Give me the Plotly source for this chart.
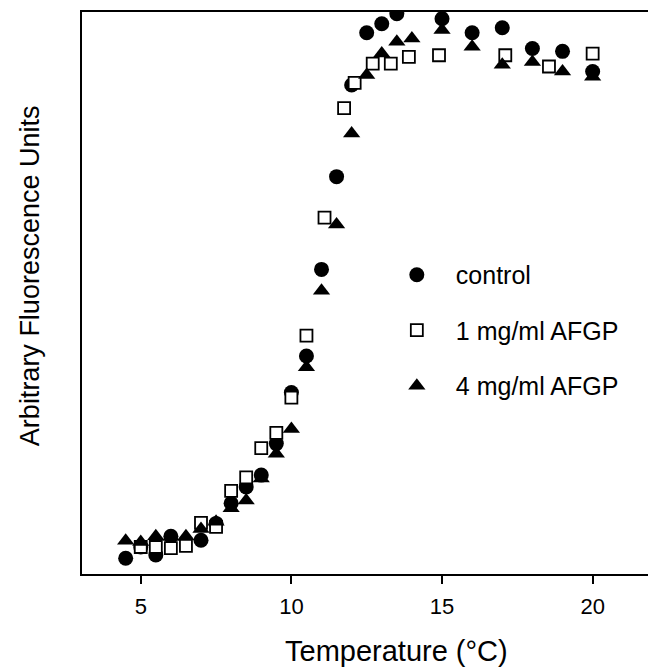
import plotly.graph_objects as go

# Temperature (°C) and fluorescence (arbitrary units, 0-100 of the plot height)
control_temp = [4.5, 5.0, 5.5, 6.0, 7.0, 7.5, 8.0, 8.5, 9.0, 9.5, 10.0, 10.5, 11.0, 11.5,
                12.0, 12.5, 13.0, 13.5, 15.0, 16.0, 17.0, 18.0, 19.0, 20.0]
control_fluo = [2.8, 4.8, 3.4, 6.7, 6.0, 9.0, 12.6, 15.5, 17.6, 23.2, 32.3, 38.8, 54.2, 70.7,
                87.0, 96.3, 97.9, 99.7, 98.8, 96.3, 97.2, 93.5, 93.0, 89.4]

afgp1_temp = [5.0, 5.5, 6.0, 6.5, 7.0, 7.5, 8.0, 8.5, 9.0, 9.5, 10.0, 10.5, 11.1, 11.75,
              12.1, 12.7, 13.3, 13.9, 14.9, 17.1, 18.55, 20.0]
afgp1_fluo = [4.8, 4.8, 4.6, 5.0, 9.1, 8.4, 14.8, 17.2, 22.4, 25.1, 31.4, 42.4, 63.4, 82.9,
              87.4, 90.8, 90.8, 92.0, 92.3, 92.3, 90.3, 92.6]

afgp4_temp = [4.5, 5.0, 5.5, 6.0, 6.5, 7.0, 7.5, 8.0, 8.5, 9.0, 9.5, 10.0, 10.5, 11.0, 11.5,
              12.0, 12.5, 13.0, 13.5, 14.0, 15.0, 16.0, 17.0, 18.0, 19.0, 20.0]
afgp4_fluo = [5.9, 5.7, 6.7, 6.6, 6.7, 8.0, 9.3, 11.7, 13.1, 17.0, 21.4, 25.8, 36.8, 50.4, 62.2,
              78.4, 88.8, 92.6, 94.7, 95.3, 96.8, 93.8, 90.6, 91.1, 89.4, 88.5]

x_ticks = [5, 10, 15, 20]

FONT = "Arial, Liberation Sans, sans-serif"

fig = go.Figure()
fig.add_trace(go.Scatter(x=control_temp, y=control_fluo, mode='markers', name='control',
                         legendgroup='a',
                         marker=dict(symbol='circle', size=15, color='black')))
fig.add_trace(go.Scatter(x=afgp1_temp, y=afgp1_fluo, mode='markers', name='1 mg/ml AFGP',
                         legendgroup='b',
                         marker=dict(symbol='square', size=12, color='white',
                                     line=dict(color='black', width=1.8))))
fig.add_trace(go.Scatter(x=afgp4_temp, y=afgp4_fluo, mode='markers', name='4 mg/ml AFGP',
                         legendgroup='c',
                         marker=dict(symbol='triangle-up', size=15, color='black')))

# page body has an 8px margin, so the figure is sized to fit inside it
fig.update_layout(
    width=648, height=659,
    margin=dict(l=74, r=2, t=2, b=93),
    paper_bgcolor='white', plot_bgcolor='white',
    font=dict(family=FONT, size=22, color='black'),
    showlegend=True,
    legend=dict(x=0.519, y=0.573, xanchor='left', yanchor='top',
                bgcolor='rgba(0,0,0,0)', font=dict(size=25),
                tracegroupgap=20, itemwidth=68),
    annotations=[
        dict(text='Temperature (°C)', x=0.552, y=0, xref='paper', yref='paper',
             xanchor='center', yanchor='middle', yshift=-77, showarrow=False,
             font=dict(size=29)),
        dict(text='Arbitrary Fluorescence Units', x=0, y=0.53, xref='paper', yref='paper',
             xanchor='center', yanchor='middle', xshift=-52, textangle=-90,
             showarrow=False, font=dict(size=27)),
    ],
)
fig.update_xaxes(range=[3.05, 21.97], tickvals=x_ticks, ticks='outside', ticklen=8,
                 tickwidth=1.5, tickcolor='black', showline=True, linecolor='black',
                 linewidth=2, mirror=True, showgrid=False, zeroline=False,
                 ticklabelstandoff=4)
fig.update_yaxes(range=[0, 100], showticklabels=False, ticks='', showline=True,
                 linecolor='black', linewidth=2, mirror=True, showgrid=False,
                 zeroline=False)

fig.write_html("out.html")
